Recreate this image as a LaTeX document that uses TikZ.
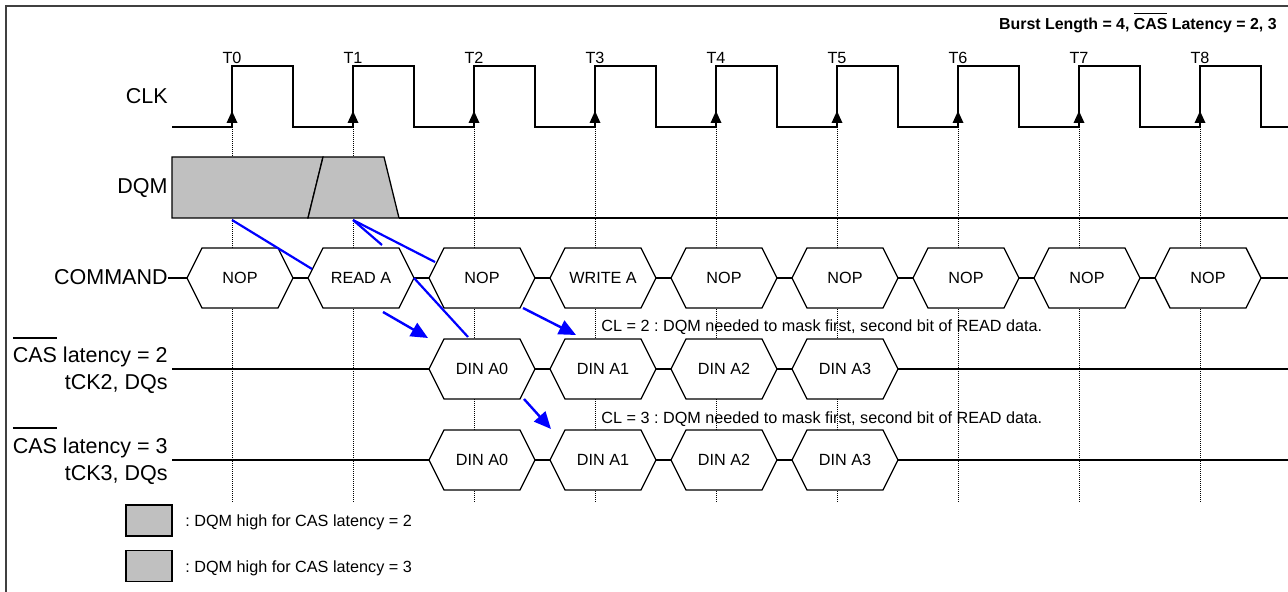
\documentclass[tikz,border=0pt]{standalone}
\usepackage{fontspec}
\setmainfont{Liberation Sans}
\usetikzlibrary{arrows.meta}
\frenchspacing

\definecolor{dqmgray}{RGB}{192,192,192}
\definecolor{maskblue}{RGB}{0,0,255}

\newcommand{\bigfont}{\fontsize{10.75}{12.5}\selectfont}
\newcommand{\smallfont}{\fontsize{8.1}{9.7}\selectfont}
\newcommand{\titlefont}{\fontsize{7.95}{9.5}\selectfont\bfseries}
% overlined signal name
\newcommand{\sigbar}[2][4.5pt]{\setbox0\hbox{#2}\rlap{\rule[\dimexpr\ht0+#1\relax]{\wd0}{0.8pt}}\box0\relax}

\tikzset{
  sigline/.style={line width=0.65pt},
  hexbox/.style={rectangle, fill=white, inner sep=0pt, outer sep=0pt,
    minimum width=53pt, minimum height=30pt, font=\smallfont},
  rowlabel/.style={anchor=base east, inner sep=0pt, font=\bigfont},
  note/.style={anchor=base west, inner sep=0pt, font=\smallfont},
  gridline/.style={line width=0.5pt, dash pattern=on 0.5pt off 0.5pt},
  maskline/.style={maskblue, line width=1.1pt},
  maskarrow/.style={maskblue, line width=1.2pt, -{Triangle[length=8.5pt,width=7.5pt]}},
  legbox/.style={draw, fill=dqmgray, sigline, minimum width=23pt, minimum height=15.5pt, inner sep=0pt}
}

% bus value: name, x, y, text
\newcommand{\sighex}[4]{%
  \node[hexbox] (#1) at (#2,#3) {#4};
  \draw[sigline] (#1.west) -- ([xshift=7.5pt]#1.north west) -- ([xshift=-7.5pt]#1.north east)
    -- (#1.east) -- ([xshift=-7.5pt]#1.south east) -- ([xshift=7.5pt]#1.south west) -- cycle;}

\begin{document}
\begin{tikzpicture}[x=0.5pt, y=-0.5pt]
  \useasboundingbox (0,0) rectangle (1288,592);
  \draw[line width=1pt, black!75] (6,592) -- (6,6) -- (1288,6);

  \node[anchor=base east, inner sep=0pt, font=\titlefont] (title) at (1277,30)
    {Burst Length = 4, \sigbar[2.2pt]{CAS} Latency = 2, 3};

  % clock edges and grid
  \foreach \i in {0,...,8}
    \coordinate (t\i) at (232+121*\i,127);
  \foreach \i in {0,...,8}
    \draw[gridline] (t\i) -- ++(0,376);

  \draw[sigline] (172,127) \foreach \i in {0,...,8} {-- (232+121*\i,127) -- (232+121*\i,66)
    -- (293+121*\i,66) -- (293+121*\i,127)} -- (1288,127);
  \foreach \i in {0,...,8} {
    \fill (t\i) ++(-5.5,-4) -- ++(11,0) -- ++(-5.5,-12) -- cycle;
    \node[anchor=base, inner sep=0pt, font=\smallfont] (tl\i) at (232+121*\i,64) {T\i};
  }

  % row labels
  \node[rowlabel] (clklbl) at (168,104) {CLK};
  \node[rowlabel] (dqmlbl) at (168,194) {DQM};
  \node[rowlabel] (cmdlbl) at (168,285) {COMMAND};
  \node[rowlabel] (cas2lbl) at (168,363) {\sigbar{CAS} latency = 2};
  \node[rowlabel] (tck2lbl) at (168,390) {tCK2, DQs};
  \node[rowlabel] (cas3lbl) at (168,453) {\sigbar{CAS} latency = 3};
  \node[rowlabel] (tck3lbl) at (168,480) {tCK3, DQs};

  % DQM
  \filldraw[sigline, fill=dqmgray] (172,157) -- (323,157) -- (308,218) -- (172,218) -- cycle;
  \filldraw[sigline, fill=dqmgray] (323,157) -- (384,157) -- (399,218) -- (308,218) -- cycle;
  \draw[sigline] (399,218) -- (1288,218);

  % command bus
  \foreach \txt [count=\i from 0] in {NOP, READ A, NOP, WRITE A, NOP, NOP, NOP, NOP, NOP}
    \sighex{cmd\i}{240+121*\i}{278}{\txt};
  \coordinate (cmdend) at (1288,278);
  \draw[sigline] (cmdlbl.east |- cmd0.west) -- (cmd0.west);
  \foreach \i in {1,...,8} {
    \pgfmathtruncatemacro\j{\i-1}
    \draw[sigline] (cmd\j.east) -- (cmd\i.west);
  }
  \draw[sigline] (cmd8.east) -- (cmdend);

  % data buses
  \foreach \row/\y in {2/369, 3/460} {
    \foreach \k in {0,...,3}
      \sighex{din\row\k}{482+121*\k}{\y}{DIN A\k};
    \coordinate (dq\row start) at (172,\y);
    \coordinate (dq\row end) at (1288,\y);
    \draw[sigline] (dq\row start) -- (din\row0.west);
    \draw[sigline] (din\row0.east) -- (din\row1.west);
    \draw[sigline] (din\row1.east) -- (din\row2.west);
    \draw[sigline] (din\row2.east) -- (din\row3.west);
    \draw[sigline] (din\row3.east) -- (dq\row end);
  }

  \node[note] (note2) at (601,332) {CL = 2 : DQM needed to mask first, second bit of READ data.};
  \node[note] (note3) at (601,423) {CL = 3 : DQM needed to mask first, second bit of READ data.};

  % masking
  \coordinate (m0) at (232,220);
  \coordinate (m1) at (353,220);
  \coordinate (e1) at (312,269);
  \coordinate (e2) at (382,245);
  \coordinate (e3) at (435,262);
  \coordinate (e4) at (468,337);
  \coordinate (a1) at (383,312);
  \coordinate (b1) at (428,338);
  \coordinate (a2) at (523,308);
  \coordinate (b2) at (576,335);
  \coordinate (a3) at (524,399);
  \coordinate (b3) at (551,429);
  \draw[maskline] (m0) -- (e1);
  \draw[maskline] (m1) -- (e2);
  \draw[maskline] (m1) -- (e3);
  \draw[maskline] (cmd1.east) -- (e4);
  \draw[maskarrow] (a1) -- (b1);
  \draw[maskarrow] (a2) -- (b2);
  \draw[maskarrow] (a3) -- (b3);

  % legend
  \node[legbox] (leg2) at (149,520.5) {};
  \node[legbox] (leg3) at (149,566) {};
  \node[note] (leg2txt) at (185,526) {: DQM high for CAS latency = 2};
  \node[note] (leg3txt) at (185,572) {: DQM high for CAS latency = 3};
\end{tikzpicture}
\end{document}
